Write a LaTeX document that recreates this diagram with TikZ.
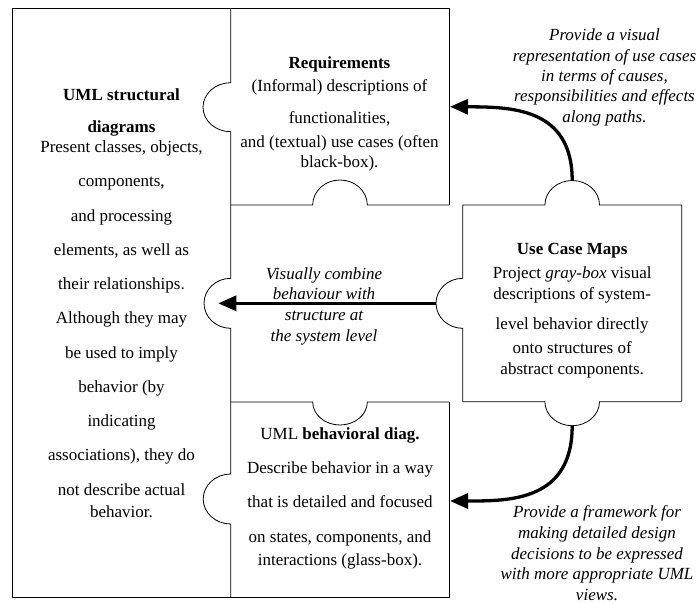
\documentclass[tikz,border=0pt]{standalone}
\usepackage{fontspec}
\setmainfont{Liberation Serif}
\usetikzlibrary{arrows.meta}

% Half-ellipse puzzle knobs, written as Bezier segments.
% \knobleft{x}{cy}{rx}{ry}: from (x,cy-ry) round the left to (x,cy+ry)
\newcommand\knobleft[4]{.. controls ({#1-0.5523*#3},{#2-#4}) and ({#1-#3},{#2-0.5523*#4}) .. ({#1-#3},#2)
  .. controls ({#1-#3},{#2+0.5523*#4}) and ({#1-0.5523*#3},{#2+#4}) .. (#1,{#2+#4})}
% \knobup{cx}{y}{rx}{ry}: from (cx-rx,y) over the top to (cx+rx,y)
\newcommand\knobup[4]{.. controls ({#1-#3},{#2-0.5523*#4}) and ({#1-0.5523*#3},{#2-#4}) .. (#1,{#2-#4})
  .. controls ({#1+0.5523*#3},{#2-#4}) and ({#1+#3},{#2-0.5523*#4}) .. ({#1+#3},#2)}
% \knobdown{cx}{y}{rx}{ry}: from (cx-rx,y) under the bottom to (cx+rx,y)
\newcommand\knobdown[4]{.. controls ({#1-#3},{#2+0.5523*#4}) and ({#1-0.5523*#3},{#2+#4}) .. (#1,{#2+#4})
  .. controls ({#1+0.5523*#3},{#2+#4}) and ({#1+#3},{#2+0.5523*#4}) .. ({#1+#3},#2)}

\tikzset{
  piece/.style={draw=black, line width=0.8pt},
  body/.style={font=\fontsize{17}{20.4}\selectfont, align=center, inner sep=0pt, text=black},
  note/.style={align=center, inner sep=0pt, text=black},
  flow/.style={line width=3.3pt, -{Triangle[length=18pt,width=15pt]}}
}

\begin{document}
\begin{tikzpicture}[x=1pt, y=-1pt]
\useasboundingbox (0,0) rectangle (698,603);

% outer frame of the left and middle column
\draw[piece] (449.3,205) -- (449.3,8.3) -- (12.3,8.3) -- (12.3,597) -- (449.3,597) -- (449.3,402);
% divider between the structural piece and the middle column
\draw[piece] (230.7,8.3) -- (230.7,82.7) \knobleft{230.7}{107.2}{27.7}{24.5}
  -- (230.7,278.3) \knobleft{230.7}{303.3}{26.7}{25}
  -- (230.7,474) \knobleft{230.7}{499}{27.5}{25} -- (230.7,597);
% horizontal cuts of the middle column
\draw[piece] (230.7,205) -- (312.7,205) \knobup{340}{205}{27.3}{25} -- (449.3,205);
\draw[piece] (230.7,402) -- (312.7,402) \knobdown{340}{402}{27.3}{23} -- (449.3,402);
% Use Case Maps piece
\draw[piece] (462.7,278.3) -- (462.7,205) -- (544.9,205) \knobup{572.2}{205}{27.3}{24.5}
  -- (681.7,205) -- (681.7,401.7);
\draw[piece] (462.7,278.3) \knobleft{462.7}{303.3}{26.7}{25} -- (462.7,401.7)
  -- (544.9,401.7) \knobdown{572.2}{401.7}{27.3}{24} -- (681.7,401.7);

% arrow end points
\coordinate (ucmN) at (572.2,180.5);
\coordinate (ucmS) at (572.2,425.7);
\coordinate (ucmW) at (436,303.3);
\coordinate (reqE) at (450,106.7);
\coordinate (behE) at (450,501);
\coordinate (midW) at (218.3,303.3);

% piece texts
\node[body] (structural) at (121.5,304.9) {\strut\textbf{UML structural}\\[11.3pt]
  \textbf{diagrams}\\
  Present classes, objects,\\[13.86pt]
  components,\\[13.86pt]
  and processing\\[13.86pt]
  elements, as well as\\[13.86pt]
  their relationships.\\[13.86pt]
  Although they may\\[13.86pt]
  be used to imply\\[13.86pt]
  behavior (by\\[13.86pt]
  indicating\\[13.86pt]
  associations), they do\\[13.86pt]
  not describe actual\\[2pt]
  behavior.\strut};

\node[body] (requirements) at (339.5,114) {\strut\textbf{Requirements}\\[2.3pt]
  (Informal) descriptions of\\[11.6pt]
  functionalities,\\[3.3pt]
  and (textual) use cases (often\\
  black-box).\strut};

\node[body] (ucm) at (572.2,310.3) {\strut\textbf{Use Case Maps}\\[3pt]
  Project \textit{gray-box} visual\\[0.9pt]
  descriptions of system-\\[9.6pt]
  level behavior directly\\[3.9pt]
  onto structures of\\
  abstract components.\strut};

\node[body] (behavioral) at (340,498.7) {\strut UML \textbf{behavioral diag.}\\[13.6pt]
  Describe behavior in a way\\[13.6pt]
  that is detailed and focused\\[14pt]
  on states, components, and\\[2.9pt]
  interactions (glass-box).\strut};

% explanatory notes
\node[note, font=\fontsize{17}{20.4}\selectfont\itshape] (noteTop) at (604.5,77.4)
  {\strut Provide a visual\\ representation of use cases\\ in terms of causes,\\
   responsibilities and effects\\ along paths.\strut};
\node[note, font=\fontsize{17}{20.9}\selectfont\itshape] (noteMid) at (324,306.2)
  {\strut Visually combine\\ behaviour with\\ structure at\\ the system level\strut};
\node[note, font=\fontsize{17}{20.8}\selectfont\itshape] (noteBot) at (597,552)
  {\strut Provide a framework for\\ making detailed design\\ decisions to be expressed\\
   with more appropriate UML\\ views.};

% connectors
\draw[flow] (ucmN) .. controls (572.2,107) and (510,107) .. (reqE);
\draw[flow] (ucmS) .. controls (572.2,501) and (510,501) .. (behE);
\draw[flow] (ucmW) -- (midW);
\end{tikzpicture}
\end{document}
